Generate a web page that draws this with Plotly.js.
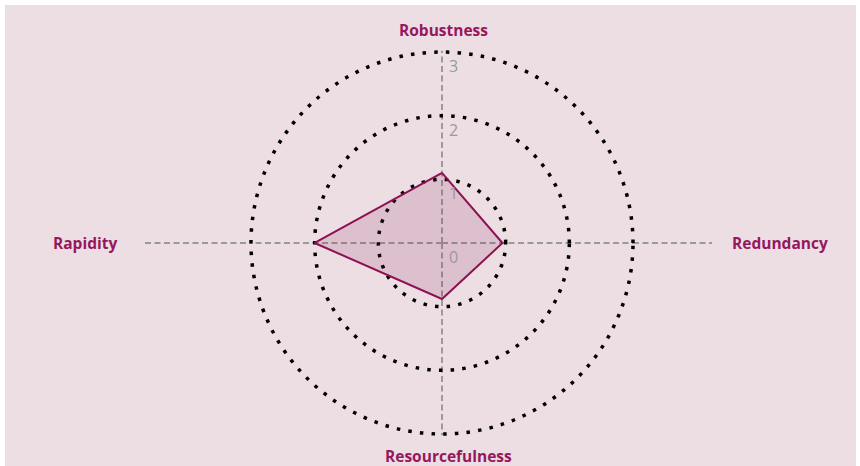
<!DOCTYPE html>
<html>
<head>
<meta charset="utf-8">
<script src="https://cdn.plot.ly/plotly-3.0.1.min.js"></script>
<style>
  html, body { margin: 0; padding: 0; background: #ffffff; overflow: hidden; }
  #chart { position: absolute; left: 5px; top: 5px; width: 851px; height: 461px; }
</style>
</head>
<body>
<div id="chart"></div>
<script>
// Data
const categories = ["Robustness", "Redundancy", "Resourcefulness", "Rapidity"];
const values = [1.1, 0.95, 0.88, 2.0];
const radialTicks = [0, 1, 2, 3];
const radialTickLabels = ["0", "1", "2", "3"];

const bg = "#ecdee3";
const accent = "#8e1152";
const labelColor = "#96175e";

const trace = {
  type: "scatterpolar",
  r: values.concat([values[0]]),
  theta: categories.concat([categories[0]]),
  mode: "lines",
  fill: "toself",
  fillcolor: "rgba(142,17,82,0.15)",
  line: { color: accent, width: 2 },
  hoverinfo: "skip",
  showlegend: false
};

// geometry: radius in px for r=3 is 191; range extended slightly so the r=3 grid circle is drawn
const rMax = 3.02;
const pxPerUnit = 191 / 3;
const R = pxPerUnit * rMax;
const cx = 437, cy = 223, W = 851, H = 461;

// label positions (paper coords) for the four axis names
const labelPos = [
  { x: 0.5147, y: 0.9458 },
  { x: 0.9107, y: 0.4837 },
  { x: 0.5206, y: 0.0217 },
  { x: 0.094, y: 0.4837 }
];

const annotations = categories.map((c, i) => ({
  text: c,
  xref: "paper", yref: "paper",
  x: labelPos[i].x, y: labelPos[i].y,
  xanchor: "center", yanchor: "middle",
  showarrow: false,
  font: { family: "Open Sans", size: 15.5, color: labelColor, weight: 700 }
}));

// radial tick labels, placed from the tick values along the vertical axis
radialTicks.forEach((v, i) => {
  annotations.push({
    text: radialTickLabels[i],
    xref: "paper", yref: "paper",
    x: (cx + 11) / W,
    y: (cy + v * pxPerUnit - 14) / H,
    xanchor: "center", yanchor: "middle",
    showarrow: false,
    font: { family: "Open Sans", size: 16, color: "#9a9a9a" }
  });
});

const dashLine = { color: "#9a9a9a", width: 2, dash: "6px,3.5px" };

const layout = {
  width: W,
  height: H,
  margin: { l: 0, r: 0, t: 0, b: 0, pad: 0 },
  paper_bgcolor: bg,
  plot_bgcolor: bg,
  showlegend: false,
  polar: {
    domain: { x: [(cx - R) / W, (cx + R) / W], y: [(cy - R) / H, (cy + R) / H] },
    bgcolor: "rgba(0,0,0,0)",
    radialaxis: {
      range: [0, rMax],
      angle: 90,
      side: "clockwise",
      tickvals: radialTicks,
      ticks: "",
      showline: false,
      showticklabels: false,
      showgrid: true,
      gridcolor: "#000000",
      gridwidth: 3.5,
      griddash: "3.5px,8.2px"
    },
    angularaxis: {
      type: "category",
      categoryarray: categories,
      rotation: 90,
      direction: "clockwise",
      showline: false,
      showticklabels: false,
      ticks: "",
      showgrid: true,
      gridcolor: "#9a9a9a",
      gridwidth: 2,
      griddash: "6px,3.5px"
    }
  },
  shapes: [
    { type: "line", xref: "paper", yref: "paper", x0: 140 / W, x1: (cx - 191) / W, y0: cy / H, y1: cy / H, line: dashLine, layer: "below" },
    { type: "line", xref: "paper", yref: "paper", x0: (cx + 191) / W, x1: 707 / W, y0: cy / H, y1: cy / H, line: dashLine, layer: "below" }
  ],
  annotations: annotations
};

Plotly.newPlot("chart", [trace], layout, { displayModeBar: false, staticPlot: true });
</script>
</body>
</html>
